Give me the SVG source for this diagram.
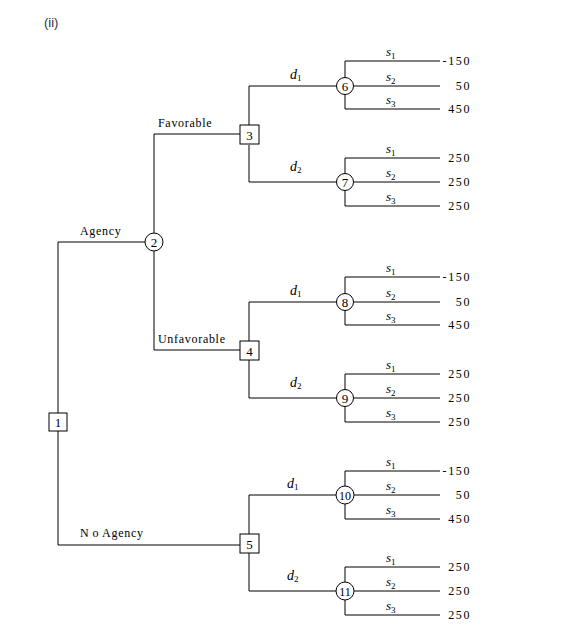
<svg xmlns="http://www.w3.org/2000/svg" width="579" height="640" viewBox="0 0 579 640">
<defs>
<style>
.e{stroke:#000;stroke-width:1;fill:none}
.n{fill:#fff;stroke:#000;stroke-width:1}
.t{font-family:"Liberation Serif","Times New Roman",serif;font-size:12px;fill:#000}
.l{letter-spacing:0.7px}
.c{text-anchor:middle;font-size:13px}
.v{text-anchor:end;letter-spacing:1.6px}
.i{font-style:italic;font-size:14px}
.s{font-style:italic;font-size:13px}
.sub{font-size:9px;font-style:normal}
</style>
</defs>
<rect width="579" height="640" fill="#fff"/>
<text x="44" y="27" font-family="Liberation Sans, Arial, sans-serif" font-size="13" fill="#334">(ii)</text>
<g id="connectors">
<path class="e" d="M58,413V242H145 M58,431V545H240 M154,233V134H240 M154,251V350H240"/>
<path class="e" d="M249,125V86H337 M249,145V182H337 M345,78V61H440 M354,86H440 M345,94V109H440 M345,174V158H440 M354,182H440 M345,190V206H440"/>
<path class="e" d="M249,341V302H337 M249,359V398H337 M345,294V277H440 M354,302H440 M345,310V325H440 M345,390V374H440 M354,398H440 M345,406V422H440"/>
<path class="e" d="M249,534V495H336 M249,553V591H336 M345,486V471H440 M354,495H440 M345,504V519H440 M345,582V567H440 M354,591H440 M345,600V615H440"/>
</g>
<g id="labels" class="t">
<text class="l" x="80" y="235">Agency</text>
<text class="l" x="80" y="537">N<tspan dx="3">o</tspan> Agency</text>
<text class="l" x="158" y="127">Favorable</text>
<text class="l" x="158" y="343">Unfavorable</text>
<text class="i" x="290" y="79">d<tspan class="sub" dy="2">1</tspan></text>
<text class="i" x="290" y="171">d<tspan class="sub" dy="2">2</tspan></text>
<text class="i" x="290" y="295">d<tspan class="sub" dy="2">1</tspan></text>
<text class="i" x="290" y="387">d<tspan class="sub" dy="2">2</tspan></text>
<text class="i" x="287" y="488">d<tspan class="sub" dy="2">1</tspan></text>
<text class="i" x="287" y="580">d<tspan class="sub" dy="2">2</tspan></text>
<g id="slabels">
<text class="s" x="386" y="56">s<tspan class="sub" dy="3">1</tspan></text>
<text class="s" x="386" y="81">s<tspan class="sub" dy="3">2</tspan></text>
<text class="s" x="386" y="104">s<tspan class="sub" dy="3">3</tspan></text>
<text class="s" x="386" y="153">s<tspan class="sub" dy="3">1</tspan></text>
<text class="s" x="386" y="177">s<tspan class="sub" dy="3">2</tspan></text>
<text class="s" x="386" y="201">s<tspan class="sub" dy="3">3</tspan></text>
<text class="s" x="386" y="272">s<tspan class="sub" dy="3">1</tspan></text>
<text class="s" x="386" y="297">s<tspan class="sub" dy="3">2</tspan></text>
<text class="s" x="386" y="320">s<tspan class="sub" dy="3">3</tspan></text>
<text class="s" x="386" y="369">s<tspan class="sub" dy="3">1</tspan></text>
<text class="s" x="386" y="393">s<tspan class="sub" dy="3">2</tspan></text>
<text class="s" x="386" y="417">s<tspan class="sub" dy="3">3</tspan></text>
<text class="s" x="386" y="466">s<tspan class="sub" dy="3">1</tspan></text>
<text class="s" x="386" y="490">s<tspan class="sub" dy="3">2</tspan></text>
<text class="s" x="386" y="514">s<tspan class="sub" dy="3">3</tspan></text>
<text class="s" x="386" y="562">s<tspan class="sub" dy="3">1</tspan></text>
<text class="s" x="386" y="586">s<tspan class="sub" dy="3">2</tspan></text>
<text class="s" x="386" y="610">s<tspan class="sub" dy="3">3</tspan></text>
</g>
<g id="values" class="v">
<text x="471" y="65">-150</text>
<text x="471" y="90">50</text>
<text x="471" y="113">450</text>
<text x="471" y="162">250</text>
<text x="471" y="186">250</text>
<text x="471" y="210">250</text>
<text x="471" y="281">-150</text>
<text x="471" y="306">50</text>
<text x="471" y="329">450</text>
<text x="471" y="378">250</text>
<text x="471" y="402">250</text>
<text x="471" y="426">250</text>
<text x="471" y="475">-150</text>
<text x="471" y="499">50</text>
<text x="471" y="523">450</text>
<text x="471" y="571">250</text>
<text x="471" y="595">250</text>
<text x="471" y="619">250</text>
</g>
</g>
<g id="node1"><rect class="n" x="49" y="413" width="18" height="18"/><text class="t c" x="58" y="427">1</text></g>
<g id="node2"><circle class="n" cx="154" cy="242" r="9"/><text class="t c" x="154" y="246.5">2</text></g>
<g id="node3"><rect class="n" x="240" y="125" width="19" height="19"/><text class="t c" x="249.5" y="139.5">3</text></g>
<g id="node4"><rect class="n" x="240" y="341" width="19" height="19"/><text class="t c" x="249.5" y="355.5">4</text></g>
<g id="node5"><rect class="n" x="240" y="534" width="19" height="19"/><text class="t c" x="249.5" y="548.5">5</text></g>
<g id="node6"><circle class="n" cx="345" cy="86" r="8.5"/><text class="t c" x="345" y="90.5">6</text></g>
<g id="node7"><circle class="n" cx="345" cy="182" r="8.5"/><text class="t c" x="345" y="186.5">7</text></g>
<g id="node8"><circle class="n" cx="345" cy="302" r="8.5"/><text class="t c" x="345" y="306.5">8</text></g>
<g id="node9"><circle class="n" cx="345" cy="398" r="8.5"/><text class="t c" x="345" y="402.5">9</text></g>
<g id="node10"><circle class="n" cx="345" cy="495" r="9"/><text class="t c" x="345" y="499.5" style="font-size:12px">10</text></g>
<g id="node11"><circle class="n" cx="345" cy="591" r="9"/><text class="t c" x="345" y="595.5" style="font-size:12px">11</text></g>
</svg>
